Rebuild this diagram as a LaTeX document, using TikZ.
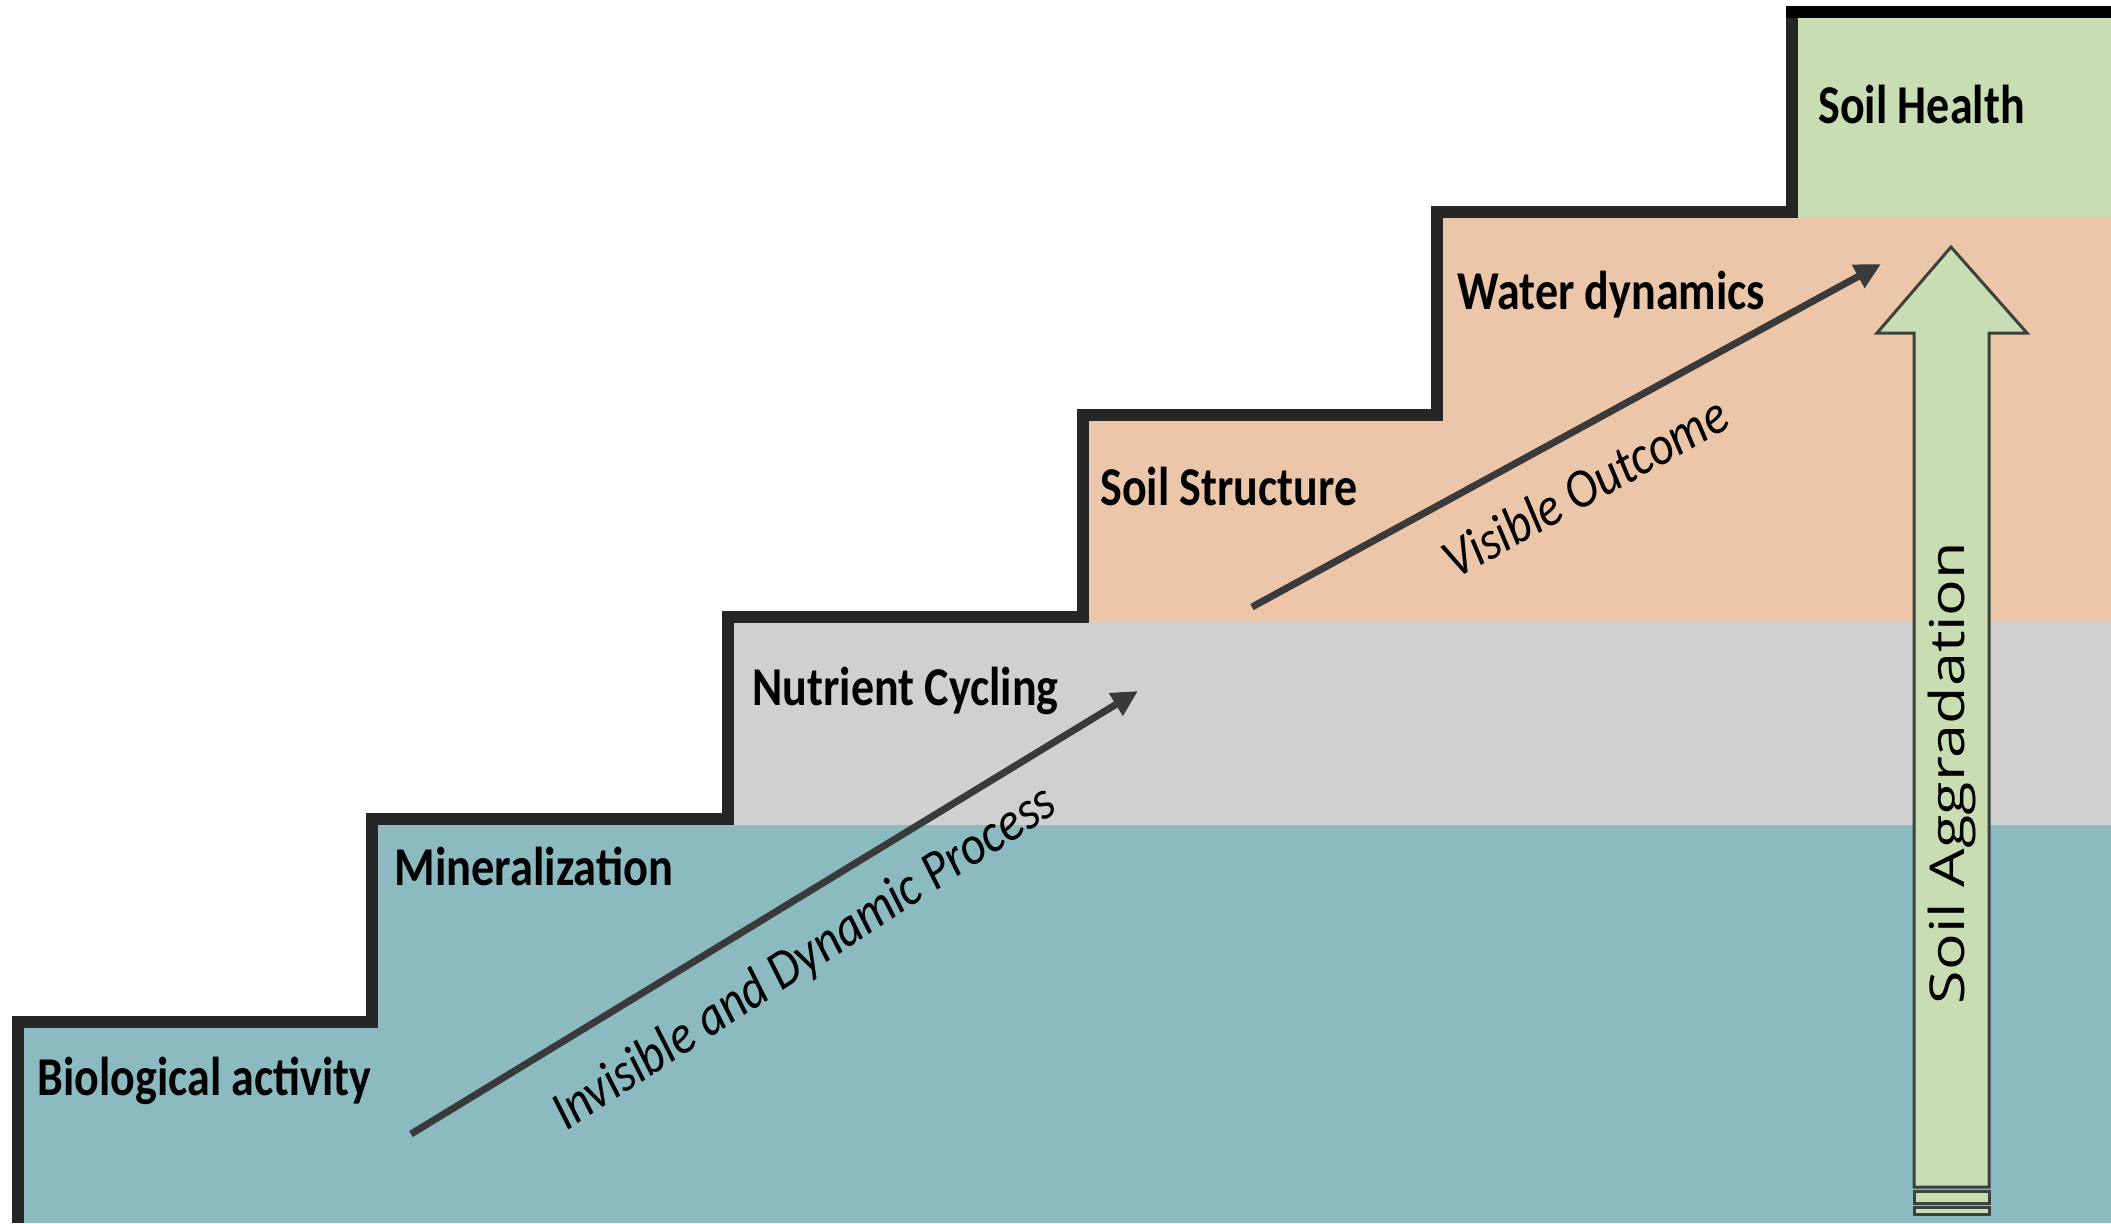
\documentclass[tikz,border=0pt]{standalone}
\usepackage{fontspec}
\usepackage{graphicx}
\setmainfont{Carlito}
\newfontfamily\aggfont{Open Sans}
\usetikzlibrary{arrows.meta}
\definecolor{soilteal}{HTML}{8BBBC0}
\definecolor{soilgrey}{HTML}{D0D0D0}
\definecolor{soilpeach}{HTML}{ECC6A8}
\definecolor{soilgreen}{HTML}{C8DDB2}
\definecolor{stairline}{HTML}{262626}
\definecolor{arrowgrey}{HTML}{3A3A3A}
\definecolor{bigoutline}{HTML}{3C4240}
\tikzset{
  stair/.style={draw=stairline, line width=6pt, line join=miter},
  smallarrow/.style={draw=arrowgrey, line width=3.5pt, -{Triangle[length=13pt,width=12.5pt]}},
  bigarrow/.style={draw=bigoutline, fill=soilgreen, line width=1.5pt, line join=miter},
  lbl/.style={inner sep=0pt, anchor=base west, font=\bfseries\fontsize{23pt}{27pt}\selectfont},
  ital/.style={inner sep=0pt, anchor=base, font=\itshape\fontsize{23.5pt}{27pt}\selectfont},
}
\begin{document}
\begin{tikzpicture}[x=0.5pt,y=-0.5pt]
\useasboundingbox (0,0) rectangle (2111,1223);
% colour bands
\fill[soilteal] (17.5,1223) -- (17.5,1022) -- (372,1022) -- (372,819) -- (728,819) -- (728,825) -- (2111,825) -- (2111,1223) -- cycle;
\fill[soilgrey] (728,617) -- (1083,617) -- (1083,622) -- (2111,622) -- (2111,825) -- (728,825) -- cycle;
\fill[soilpeach] (1083,415) -- (1437,415) -- (1437,212) -- (1792,212) -- (1792,217) -- (2111,217) -- (2111,622) -- (1083,622) -- cycle;
\fill[soilgreen] (1792,12) -- (2111,12) -- (2111,217) -- (1792,217) -- cycle;
% staircase outline
\draw[stair] (17.5,1223) -- (17.5,1022) -- (372,1022) -- (372,819) -- (728,819) -- (728,617) -- (1083,617) -- (1083,415) -- (1437,415) -- (1437,212) -- (1792,212) -- (1792,12);
\draw[stair, draw=black] (1786,12) -- (2111,12);
% small arrows
\coordinate (a1s) at (411,1134);
\coordinate (a1e) at (1138,691);
\coordinate (a2s) at (1252,607);
\coordinate (a2e) at (1881,264);
\draw[smallarrow] (a1s) -- (a1e);
\draw[smallarrow] (a2s) -- (a2e);
% big hollow arrow
\draw[bigarrow] (1951,247) -- (2027,333) -- (1989,333) -- (1989,1187) -- (1914,1187) -- (1914,333) -- (1877,333) -- cycle;
\draw[bigarrow] (1914,1191) rectangle (1989,1203);
\draw[bigarrow] (1914,1207) rectangle (1989,1214);
% step labels
\node[lbl] (bio) at (37,1095) {\scalebox{1}[1.19]{Biological activity}};
\node[lbl] (min) at (394,885) {\scalebox{1.01}[1.19]{Mineralization}};
\node[lbl] (nut) at (752,705) {\scalebox{1}[1.19]{Nutrient Cycling}};
\node[lbl] (str) at (1100,505) {\scalebox{1}[1.19]{Soil Structure}};
\node[lbl] (wat) at (1457,309) {\scalebox{1}[1.19]{Water dynamics}};
\node[lbl] (hea) at (1818,123) {\scalebox{1}[1.19]{Soil Health}};
% arrow labels
\node[ital, rotate=33] (inv) at (813,971) {\scalebox{1.04}[1.17]{Invisible and Dynamic Process}};
\node[ital, rotate=29] (vis) at (1594,503) {\scalebox{1.03}[1.17]{Visible Outcome}};
\node[inner sep=0pt, anchor=base, rotate=90] (agg) at (1964,773) {\aggfont\fontsize{24pt}{28pt}\selectfont\scalebox{1.27}[1]{Soil Aggradation}};
\end{tikzpicture}
\end{document}
